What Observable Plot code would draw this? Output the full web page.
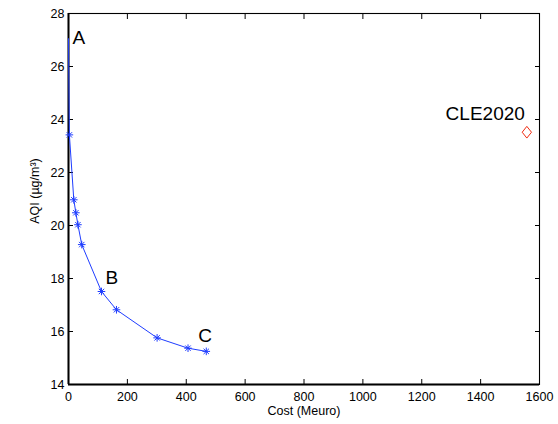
<!DOCTYPE html>
<html>
<head>
<meta charset="utf-8">
<script src="https://cdn.jsdelivr.net/npm/d3@7"></script>
<script src="https://cdn.jsdelivr.net/npm/@observablehq/plot@0.6"></script>
<style>
  html, body { margin: 0; padding: 0; background: white; }
</style>
</head>
<body>
<div id="chart"></div>
<script>
// Efficient frontier: cost (Meuro) vs AQI (µg/m³)
const cost = [0, 3, 18, 25, 32, 45, 112, 163, 301, 406, 468];
const aqi  = [27.05, 23.42, 20.97, 20.48, 20.03, 19.28, 17.51, 16.82, 15.76, 15.37, 15.25];

// Reference scenario
const cleName = ["CLE2020"];
const cleCost = [1557];
const cleAqi  = [23.52];

// Point labels (attached to frontier indices)
const labelNames = ["A", "B", "C"];
const labelIndex = [0, 6, 10];

const xTicks = [0, 200, 400, 600, 800, 1000, 1200, 1400, 1600];
const yTicks = [14, 16, 18, 20, 22, 24, 26, 28];
const xLabel = "Cost (Meuro)";
const yLabel = "AQI (µg/m³)";

const frontier = cost.map((c, i) => ({cost: c, aqi: aqi[i]}));
const markers = frontier.slice(1);
const cle = cleName.map((n, i) => ({name: n, cost: cleCost[i], aqi: cleAqi[i]}));
const labels = labelNames.map((n, i) => ({name: n, ...frontier[labelIndex[i]]}));

const asterisk8 = {
  draw(ctx, size) {
    const r = Math.sqrt(size / Math.PI);
    for (let k = 0; k < 4; k++) {
      const a = k * Math.PI / 4;
      const dx = r * Math.cos(a), dy = r * Math.sin(a);
      ctx.moveTo(dx, dy);
      ctx.lineTo(-dx, -dy);
    }
  }
};
const diamond = {
  draw(ctx, size) {
    const r = Math.sqrt(size / Math.PI);
    const h = r * 1.17, w = r * 0.93;
    ctx.moveTo(0, -h);
    ctx.lineTo(w, 0);
    ctx.lineTo(0, h);
    ctx.lineTo(-w, 0);
    ctx.closePath();
  }
};

const blue = "#1f3dff";
const labelOffsets = {A: [4, -1], B: [4, -14], C: [-8, -15]};
const intFmt = d3.format("d");

const chart = Plot.plot({
  width: 558,
  height: 424,
  marginLeft: 68,
  marginRight: 19,
  marginTop: 13,
  marginBottom: 40,
  style: {fontFamily: "'Liberation Sans', Arial, Helvetica, sans-serif", fontSize: "13px", background: "white", color: "black"},
  x: {domain: [xTicks[0], xTicks[xTicks.length - 1]]},
  y: {domain: [yTicks[0], yTicks[yTicks.length - 1]]},
  marks: [
    Plot.frame({stroke: "black", strokeWidth: 1.1}),
    Plot.ruleX([xTicks[0]], {stroke: "black", strokeWidth: 2}),
    Plot.ruleY([yTicks[0]], {stroke: "black", strokeWidth: 2}),
    Plot.axisX(xTicks, {anchor: "bottom", tickSize: 0, tickPadding: 8, fontSize: 12.5, tickFormat: intFmt, label: null}),
    Plot.axisX(xTicks, {anchor: "bottom", tickSize: -5, tickFormat: () => "", label: null}),
    Plot.axisX(xTicks, {anchor: "top", tickSize: -5, tickFormat: () => "", label: null}),
    Plot.axisY(yTicks, {anchor: "left", tickSize: 0, tickPadding: 4, fontSize: 12.5, tickFormat: intFmt, label: null}),
    Plot.axisY(yTicks, {anchor: "left", tickSize: -5, tickFormat: () => "", label: null}),
    Plot.axisY(yTicks, {anchor: "right", tickSize: -5, tickFormat: () => "", label: null}),
    Plot.line(frontier, {x: "cost", y: "aqi", stroke: blue, strokeWidth: 1}),
    Plot.dot(markers, {x: "cost", y: "aqi", symbol: asterisk8, r: 3.8, stroke: blue, fill: "none", strokeWidth: 1}),
    Plot.dot(cle, {x: "cost", y: "aqi", symbol: diamond, r: 5, stroke: "#f02a10", fill: "none", strokeWidth: 1}),
    ...labels.map(l => Plot.text([l], {x: "cost", y: "aqi", text: "name", textAnchor: "start", dx: labelOffsets[l.name][0], dy: labelOffsets[l.name][1], fontSize: 19, fill: "black"})),
    Plot.text(cle, {x: "cost", y: "aqi", text: "name", textAnchor: "end", dx: -2, dy: -18.5, fontSize: 19, fill: "black"}),
    Plot.text([xLabel], {frameAnchor: "bottom", textAnchor: "middle", dy: 30, fontSize: 12.5, fill: "black"}),
    Plot.text([yLabel], {frameAnchor: "left", rotate: -90, textAnchor: "middle", dx: -34, dy: -8, fontSize: 12.5, fill: "black"})
  ]
});
document.getElementById("chart").appendChild(chart);
</script>
</body>
</html>
